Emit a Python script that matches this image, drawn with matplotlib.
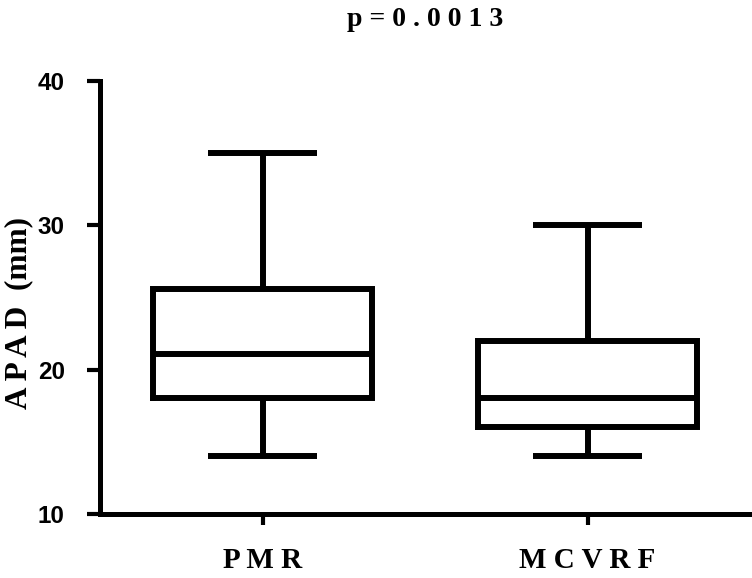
import matplotlib
matplotlib.use("Agg")
import matplotlib.pyplot as plt

# values (whiskers = min/max)
groups = ["PMR", "MCVRF"]
whislo = [14, 14]
q1 = [18, 16]
med = [21.1, 18]
q3 = [25.6, 22]
whishi = [35, 30]
yticks = [10, 20, 30, 40]
p_value = "0.0013"

serif = ["Liberation Serif", "DejaVu Serif"]
sans = ["Liberation Sans", "DejaVu Sans"]


def spaced(s):
    return " ".join(s)


stats = [
    dict(label=g, whislo=lo, q1=a, med=m, q3=b, whishi=hi, fliers=[])
    for g, lo, a, m, b, hi in zip(groups, whislo, q1, med, q3, whishi)
]

fig = plt.figure(figsize=(7.52, 5.78), dpi=100)
ax = fig.add_axes([100 / 752, 1 - 514 / 578, 650 / 752, (514 - 80.7) / 578])

lw = 4.3
line = dict(color="black", linewidth=lw, solid_capstyle="projecting", solid_joinstyle="miter")
ax.bxp(
    stats,
    positions=[1, 2],
    widths=0.676,
    capwidths=0.333,
    showfliers=False,
    patch_artist=False,
    boxprops=line,
    medianprops=dict(color="black", linewidth=lw, solid_capstyle="butt"),
    whiskerprops=dict(color="black", linewidth=lw, solid_capstyle="butt"),
    capprops=dict(color="black", linewidth=lw, solid_capstyle="butt"),
)

ax.set_xlim(0.5, 2.5)
ax.set_ylim(10, 40)
ax.set_yticks(yticks)
ax.set_yticklabels([str(t) for t in yticks], family=sans, fontweight="bold", fontsize=17.5)
ax.set_xticks([1, 2])
ax.set_xticklabels([spaced(g) for g in groups], family=serif, fontweight="bold", fontsize=21)

for side in ("top", "right"):
    ax.spines[side].set_visible(False)
for side in ("left", "bottom"):
    ax.spines[side].set_linewidth(3.6)
    ax.spines[side].set_capstyle("projecting")

ax.tick_params(axis="y", length=9.4, width=3, pad=16)
ax.tick_params(axis="x", length=8, width=3, pad=16)

fig.text(19 / 752, 1 - 313 / 578, "A P A D  (mm)", rotation=90, ha="center", va="center",
         family=serif, fontweight="bold", fontsize=22.5)
fig.text(425 / 752, 1 - 20 / 578, spaced("p=" + p_value), ha="center", va="center",
         family=serif, fontweight="bold", fontsize=20)

fig.savefig("out.png", dpi=100)
